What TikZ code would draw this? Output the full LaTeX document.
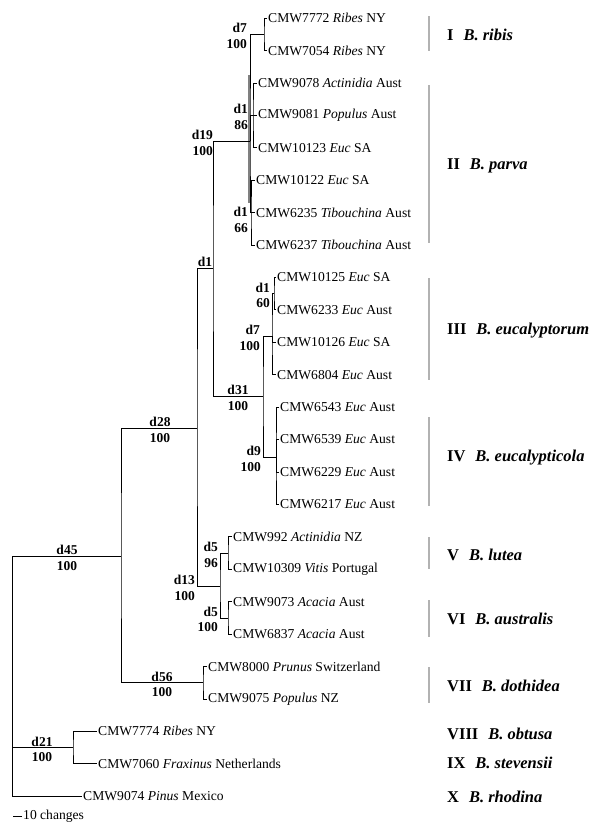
\documentclass[tikz,border=0pt]{standalone}
\usepackage{fontspec}
\setmainfont{Liberation Serif}
\usetikzlibrary{calc}
\tikzstyle{branch} = [draw=black, line width=0.6pt]
\tikzstyle{tip} = [
    anchor=west,
    inner sep=1pt,
    font=\fontsize{13.6}{15}\selectfont
    ]
\tikzstyle{dlab} = [
    inner sep=1pt,
    font=\fontsize{13.5}{15}\selectfont\bfseries
    ]
\tikzstyle{slab} = [dlab, yshift=-4pt]
\tikzstyle{cladebar} = [draw=black!30, line width=1.3pt]
\tikzstyle{cladename} = [
    anchor=west,
    inner sep=0pt,
    font=\fontsize{16.5}{18}\selectfont\bfseries
    ]
\newcommand{\brlabel}[5]{% decay index above, bootstrap below
  \node[dlab, anchor=south#3] (#1d) at #2 {#4};
  \node[slab, anchor=north#3] (#1s) at #2 {#5};}

\begin{document}
\begin{tikzpicture}[x=1pt, y=-1pt]
\useasboundingbox (0,0) rectangle (589,827);

% taxa
\node[tip] (t1) at (267,18.0) {CMW7772 \textit{Ribes} NY};
\node[tip] (t2) at (267,50.4) {CMW7054 \textit{Ribes} NY};
\node[tip] (t3) at (257,82.8) {CMW9078 \textit{Actinidia} Aust};
\node[tip] (t4) at (257,115.3) {CMW9081 \textit{Populus} Aust};
\node[tip] (t5) at (257,147.7) {CMW10123 \textit{Euc} SA};
\node[tip] (t6) at (255,180.1) {CMW10122 \textit{Euc} SA};
\node[tip] (t7) at (255,212.5) {CMW6235 \textit{Tibouchina} Aust};
\node[tip] (t8) at (255,244.9) {CMW6237 \textit{Tibouchina} Aust};
\node[tip] (t9) at (276,277.4) {CMW10125 \textit{Euc} SA};
\node[tip] (t10) at (276,309.8) {CMW6233 \textit{Euc} Aust};
\node[tip] (t11) at (276,342.2) {CMW10126 \textit{Euc} SA};
\node[tip] (t12) at (276,374.6) {CMW6804 \textit{Euc} Aust};
\node[tip] (t13) at (279,407.0) {CMW6543 \textit{Euc} Aust};
\node[tip] (t14) at (279,439.5) {CMW6539 \textit{Euc} Aust};
\node[tip] (t15) at (279,471.9) {CMW6229 \textit{Euc} Aust};
\node[tip] (t16) at (279,504.3) {CMW6217 \textit{Euc} Aust};
\node[tip] (t17) at (232,536.7) {CMW992 \textit{Actinidia} NZ};
\node[tip] (t18) at (232,569.1) {CMW10309 \textit{Vitis} Portugal};
\node[tip] (t19) at (232,601.6) {CMW9073 \textit{Acacia} Aust};
\node[tip] (t20) at (232,634.0) {CMW6837 \textit{Acacia} Aust};
\node[tip] (t21) at (207,666.4) {CMW8000 \textit{Prunus} Switzerland};
\node[tip] (t22) at (207,698.8) {CMW9075 \textit{Populus} NZ};
\node[tip] (t23) at (97,731.2) {CMW7774 \textit{Ribes} NY};
\node[tip] (t24) at (97,763.7) {CMW7060 \textit{Fraxinus} Netherlands};
\node[tip] (t25) at (82,796.1) {CMW9074 \textit{Pinus} Mexico};

% internal nodes
\coordinate (n7a) at (264,34.2);
\coordinate (n86) at (253,115.3);
\coordinate (n66) at (251,212.5);
\coordinate (n19) at (250,141);
\coordinate (n1) at (213,268);
\coordinate (n60) at (274,293.6);
\coordinate (n7b) at (272,336);
\coordinate (n9) at (276,457);
\coordinate (n31) at (263,396);
\coordinate (n28) at (197,428);
\coordinate (n96) at (228,552.9);
\coordinate (n5b) at (228,617.8);
\coordinate (n13) at (220,586);
\coordinate (n56) at (203,682.6);
\coordinate (n45) at (121,556);
\coordinate (n21) at (73,747.5);
\coordinate (root) at (12,556);

% branches
\draw[branch] (t1.west) -| (n7a) |- (t2.west);
\draw[branch] (t3.west) -| (n86) |- (t5.west) (n86) |- (t4.west);
\draw[branch] (t6.west) -| (n66) |- (t8.west) (n66) |- (t7.west);
\draw[branch] (n7a) -| (n19) |- (n66) (n19) |- (n86);
\draw[gray, line width=1.5pt] ($(n19)+(-1,-66)$) -- ($(n19)+(-1,62)$);
\draw[branch] (n19) -| (n1) |- (n31);
\draw[branch, line width=1pt] (t9.west) -| (n60) |- (t10.west);
\draw[branch] (n60) -| (n7b) |- (t12.west) (n7b) |- (t11.west);
\draw[branch] (t13.west) -| (n9) |- (t16.west) (n9) |- (t14.west) (n9) |- (t15.west);
\draw[branch] (n7b) -| (n31) |- (n9);
\draw[branch] (t17.west) -| (n96) |- (t18.west);
\draw[branch] (t19.west) -| (n5b) |- (t20.west);
\draw[branch] (n96) -| (n13) |- (n5b);
\draw[branch] (n1) -| (n28) |- (n13);
\draw[branch] (t21.west) -| (n56) |- (t22.west);
\draw[branch] (n28) -| (n45) |- (n56);
\draw[branch] (t23.west) -| (n21) |- (t24.west);
\draw[branch] (n45) -| (root) |- (t25.west) (root) |- (n21);

% branch support
\brlabel{b7a}{(248,34.2)}{ east}{d7}{100}
\brlabel{b86}{(249,115.3)}{ east}{d1}{86}
\brlabel{b19}{(214,141)}{ east}{d19}{100}
\brlabel{b66}{(249,218)}{ east}{d1}{66}
\node[dlab, anchor=south] (b1d) at (205,268) {d1};
\brlabel{b60}{(271,293.6)}{ east}{d1}{60}
\brlabel{b7b}{(261,336)}{ east}{d7}{100}
\brlabel{b31}{(238,396)}{}{d31}{100}
\brlabel{b9}{(262,457)}{ east}{d9}{100}
\brlabel{b28}{(160,428)}{}{d28}{100}
\brlabel{b45}{(67,556)}{}{d45}{100}
\brlabel{b96}{(219,552.9)}{ east}{d5}{96}
\brlabel{b13}{(196,586)}{ east}{d13}{100}
\brlabel{b5b}{(219,617.8)}{ east}{d5}{100}
\brlabel{b56}{(162,682.6)}{}{d56}{100}
\brlabel{b21}{(42,747.5)}{}{d21}{100}

% clades
\draw[cladebar] (429,16) -- (429,51);
\draw[cladebar] (429,85) -- (429,243);
\draw[cladebar] (429,278) -- (429,380);
\draw[cladebar] (429,417) -- (429,506);
\draw[cladebar] (429,537) -- (429,569);
\draw[cladebar] (429,600) -- (429,637);
\draw[cladebar] (429,667) -- (429,703);
\node[cladename] (c1) at (447,35) {I\hspace{0.6em}\textit{B. ribis}};
\node[cladename] (c2) at (447,166) {II\hspace{0.6em}\textit{B. parva}};
\node[cladename] (c3) at (447,331) {III\hspace{0.6em}\textit{B. eucalyptorum}};
\node[cladename] (c4) at (447,458) {IV\hspace{0.6em}\textit{B. eucalypticola}};
\node[cladename] (c5) at (447,555) {V\hspace{0.6em}\textit{B. lutea}};
\node[cladename] (c6) at (447,619) {VI\hspace{0.6em}\textit{B. australis}};
\node[cladename] (c7) at (447,686) {VII\hspace{0.6em}\textit{B. dothidea}};
\node[cladename] (c8) at (447,734) {VIII\hspace{0.6em}\textit{B. obtusa}};
\node[cladename] (c9) at (447,763) {IX\hspace{0.6em}\textit{B. stevensii}};
\node[cladename] (c10) at (447,797) {X\hspace{0.6em}\textit{B. rhodina}};

% scale
\node[tip] (scale) at (22,816) {10 changes};
\draw[branch] (scale.west) -- ++(-9,0);
\end{tikzpicture}
\end{document}
